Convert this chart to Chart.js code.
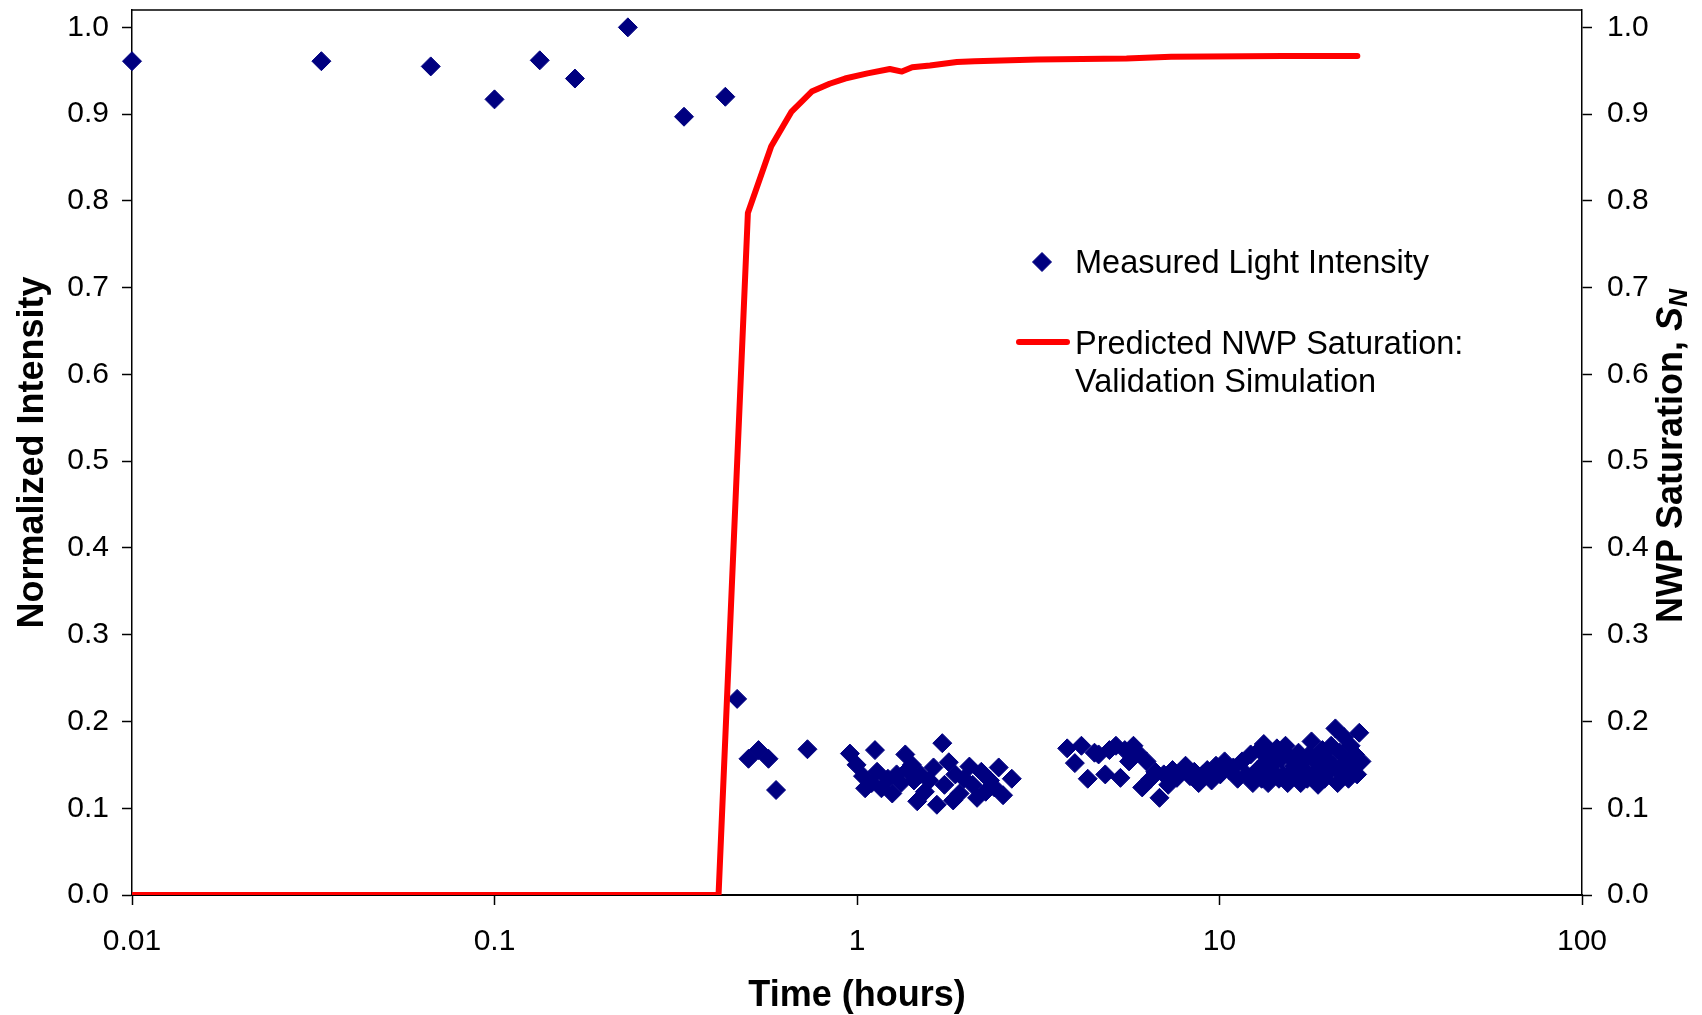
<!DOCTYPE html>
<html>
<head>
<meta charset="utf-8">
<script src="https://cdn.jsdelivr.net/npm/chart.js@4.4.1/dist/chart.umd.min.js"></script>
<style>
  html, body { margin: 0; padding: 0; background: #fff; }
  canvas { display: block; }
</style>
</head>
<body>
<canvas id="chart" width="1702" height="1015"></canvas>
<script>
// measured light intensity (time in hours, normalized intensity)
const measuredTime = [
  0.01, 0.0333, 0.0667, 0.1, 0.1333, 0.1667, 0.2333, 0.3333, 0.4333,
  0.467, 0.502, 0.535, 0.570, 0.598, 0.730,
  0.956, 0.997, 1.039, 1.053, 1.121, 1.098, 1.136, 1.168, 1.217, 1.251,
  1.286, 1.322, 1.359, 1.378, 1.417, 1.436, 1.466, 1.497, 1.539, 1.582,
  1.626, 1.661, 1.719, 1.743, 1.792, 1.842, 1.867, 1.919, 1.973, 2.042,
  2.085, 2.144, 2.203, 2.265, 2.328, 2.393, 2.460, 2.529, 2.673,
  3.80, 3.99, 4.16, 4.33, 4.52, 4.64, 4.84, 4.97, 5.18, 5.33,
  5.48, 5.63, 5.79, 5.95, 6.12, 6.29, 6.46, 6.65, 6.83, 7.02,
  7.22, 7.42, 7.63, 7.84, 8.06, 8.29, 8.52, 8.76, 9.00, 9.25,
  9.51, 9.78, 10.05, 10.33, 10.62, 10.92, 11.22, 11.54, 11.86, 12.19,
  12.36, 12.71, 12.88, 13.07, 13.25, 13.43, 13.62, 13.81, 14.00, 14.20,
  14.40, 14.59, 14.79, 15.00, 15.21, 15.42, 15.63, 15.85, 16.07, 16.29,
  16.52, 16.75, 16.98, 17.22, 17.46, 17.70, 17.94, 18.19, 18.45, 18.70,
  18.96, 19.23, 19.49, 19.77, 20.04, 20.32, 20.60, 20.88, 21.18, 21.47,
  21.77, 22.07, 22.38, 22.69, 23.00, 23.32, 23.64, 23.97, 24.30, 24.64
];
const measuredIntensity = [
  0.961, 0.961, 0.955, 0.917, 0.962, 0.941, 1.000, 0.897, 0.920,
  0.226, 0.157, 0.167, 0.157, 0.121, 0.168,
  0.163, 0.150, 0.137, 0.123, 0.167, 0.129, 0.142, 0.123, 0.134, 0.117,
  0.139, 0.129, 0.162, 0.144, 0.150, 0.132, 0.108, 0.139, 0.119, 0.132,
  0.147, 0.104, 0.175, 0.127, 0.153, 0.109, 0.139, 0.117, 0.134, 0.148,
  0.127, 0.112, 0.142, 0.119, 0.132, 0.124, 0.147, 0.115, 0.134,
  0.169, 0.152, 0.172, 0.134, 0.164, 0.162, 0.139, 0.167, 0.172, 0.135,
  0.167, 0.154, 0.172, 0.164, 0.124, 0.154, 0.134, 0.142, 0.112, 0.139,
  0.127, 0.144, 0.135, 0.142, 0.149, 0.137, 0.142, 0.129, 0.139, 0.144,
  0.132, 0.149, 0.139, 0.154, 0.144, 0.147, 0.134, 0.154, 0.139, 0.162,
  0.129, 0.144, 0.167, 0.134, 0.174, 0.154, 0.129, 0.164, 0.142, 0.152,
  0.169, 0.134, 0.157, 0.139, 0.172, 0.129, 0.159, 0.142, 0.149, 0.137,
  0.164, 0.129, 0.154, 0.144, 0.134, 0.162, 0.177, 0.139, 0.154, 0.127,
  0.147, 0.167, 0.134, 0.157, 0.142, 0.172, 0.149, 0.192, 0.129, 0.164,
  0.139, 0.182, 0.154, 0.134, 0.172, 0.147, 0.162, 0.139, 0.187, 0.154
];

// predicted NWP saturation (validation simulation)
const simTime = [0.01, 0.415, 0.5, 0.58, 0.66, 0.75, 0.84, 0.927, 1.069, 1.232,
  1.33, 1.42, 1.59, 1.886, 2.111, 3.14, 5.54, 7.35, 14.97, 24.0];
const simSaturation = [0, 0, 0.786, 0.863, 0.903, 0.926, 0.935, 0.941, 0.947, 0.952,
  0.949, 0.954, 0.956, 0.960, 0.961, 0.963, 0.964, 0.966, 0.967, 0.967];

const xTicks = [0.01, 0.1, 1, 10, 100];
const yTicks = [0, 0.1, 0.2, 0.3, 0.4, 0.5, 0.6, 0.7, 0.8, 0.9, 1.0];
const yMax = 1.02;

const FONT = "'Liberation Sans', Arial, sans-serif";
const navy = '#000080';
const red = '#ff0000';

const measuredPoints = measuredTime.map((t, i) => ({ x: t, y: measuredIntensity[i] }));
const simPoints = simTime.map((t, i) => ({ x: t, y: simSaturation[i] }));

function yAxis(position, padding, width) {
  return {
    type: 'linear',
    position: position,
    min: 0,
    max: yMax,
    afterBuildTicks: axis => { axis.ticks = yTicks.map(v => ({ value: v })); },
    afterFit: s => {
      s.width = width;
      s.paddingTop = 0;
      s.paddingBottom = 0;
    },
    ticks: {
      callback: v => v.toFixed(1),
      font: { family: FONT, size: 30 },
      color: '#000',
      padding: padding
    },
    grid: { drawOnChartArea: false, drawTicks: true, tickLength: 10, tickColor: '#000', tickWidth: 1.5 },
    border: { display: true, color: '#000', width: 1.5 }
  };
}

// frame top, axis titles and the in-plot legend
const extras = {
  id: 'extras',
  afterDraw(chart) {
    const ctx = chart.ctx;
    const a = chart.chartArea;
    ctx.save();
    ctx.strokeStyle = '#000';
    ctx.lineWidth = 1.5;
    ctx.beginPath();
    ctx.moveTo(a.left, a.top);
    ctx.lineTo(a.right, a.top);
    ctx.stroke();

    ctx.fillStyle = '#000';
    ctx.textBaseline = 'middle';
    ctx.textAlign = 'center';
    ctx.font = 'bold 36px ' + FONT;
    ctx.fillText('Time (hours)', (a.left + a.right) / 2, 996);

    ctx.save();
    ctx.translate(33, (a.top + a.bottom) / 2);
    ctx.rotate(-Math.PI / 2);
    ctx.fillText('Normalized Intensity', 0, 0);
    ctx.restore();

    // right title with subscript
    ctx.save();
    ctx.translate(1672, 456);
    ctx.rotate(-Math.PI / 2);
    ctx.textAlign = 'left';
    const p1 = 'NWP Saturation, ';
    ctx.font = 'bold 36px ' + FONT;
    const w1 = ctx.measureText(p1).width;
    ctx.font = 'italic bold 36px ' + FONT;
    const w2 = ctx.measureText('S').width;
    ctx.font = 'italic bold 25px ' + FONT;
    const w3 = ctx.measureText('N').width;
    let x = -(w1 + w2 + w3) / 2;
    ctx.font = 'bold 36px ' + FONT;
    ctx.fillText(p1, x, 0);
    x += w1;
    ctx.font = 'italic bold 36px ' + FONT;
    ctx.fillText('S', x, 0);
    x += w2;
    ctx.font = 'italic bold 25px ' + FONT;
    ctx.fillText('N', x, 8);
    ctx.restore();

    // legend
    ctx.fillStyle = navy;
    ctx.strokeStyle = navy;
    ctx.lineWidth = 1;
    const dx = 1042, dy = 262, r = 9.5;
    ctx.beginPath();
    ctx.moveTo(dx - r, dy);
    ctx.lineTo(dx, dy - r);
    ctx.lineTo(dx + r, dy);
    ctx.lineTo(dx, dy + r);
    ctx.closePath();
    ctx.fill();
    ctx.stroke();

    ctx.strokeStyle = red;
    ctx.lineWidth = 6;
    ctx.lineCap = 'round';
    ctx.beginPath();
    ctx.moveTo(1019, 342);
    ctx.lineTo(1067, 342);
    ctx.stroke();

    ctx.fillStyle = '#000';
    ctx.textAlign = 'left';
    ctx.textBaseline = 'alphabetic';
    ctx.font = '32.5px ' + FONT;
    ctx.fillText('Measured Light Intensity', 1075, 273);
    ctx.fillText('Predicted NWP Saturation:', 1075, 354);
    ctx.fillText('Validation Simulation', 1075, 392);
    ctx.restore();
  }
};

new Chart(document.getElementById('chart'), {
  type: 'scatter',
  data: {
    datasets: [
      {
        label: 'Measured Light Intensity',
        data: measuredPoints,
        yAxisID: 'y',
        pointStyle: 'rectRot',
        pointRadius: 9.5,
        backgroundColor: navy,
        borderColor: navy,
        borderWidth: 1,
        clip: false,
        order: 1
      },
      {
        type: 'line',
        label: 'Predicted NWP Saturation: Validation Simulation',
        data: simPoints,
        yAxisID: 'y2',
        borderColor: red,
        borderWidth: 6,
        pointRadius: 0,
        tension: 0,
        fill: false,
        borderJoinStyle: 'round',
        borderCapStyle: 'round',
        order: 0
      }
    ]
  },
  options: {
    responsive: false,
    animation: false,
    layout: { padding: { top: 10, left: 0, right: 0, bottom: 0 }, autoPadding: false },
    plugins: { legend: { display: false }, tooltip: { enabled: false } },
    scales: {
      x: {
        type: 'logarithmic',
        position: 'bottom',
        min: 0.01,
        max: 100,
        afterBuildTicks: axis => { axis.ticks = xTicks.map(v => ({ value: v })); },
        afterFit: s => {
          s.height = 120;
          s.paddingLeft = 0;
          s.paddingRight = 0;
        },
        ticks: {
          callback: v => String(v),
          font: { family: FONT, size: 30 },
          color: '#000',
          padding: 19,
          maxRotation: 0,
          autoSkip: false
        },
        grid: { drawOnChartArea: false, drawTicks: true, tickLength: 10, tickColor: '#000', tickWidth: 1.5 },
        border: { display: true, color: '#000', width: 2 }
      },
      y: yAxis('left', 13, 132),
      y2: yAxis('right', 15, 120)
    }
  },
  plugins: [extras]
});
</script>
</body>
</html>
